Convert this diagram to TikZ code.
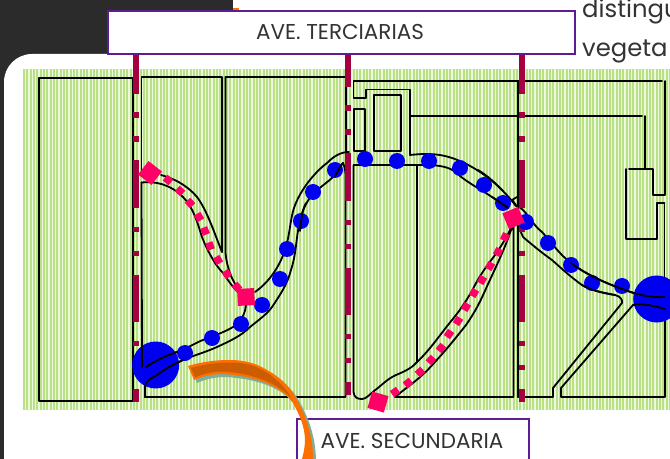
\documentclass[tikz,border=0pt]{standalone}
\usepackage{fontspec}
\setmainfont{Poppins}
\definecolor{slate}{HTML}{2B2B2B}
\definecolor{hatchg}{HTML}{B7E184}
\definecolor{hatchl}{HTML}{EEF8DF}
\definecolor{avenue}{HTML}{A5003F}
\definecolor{pinkm}{HTML}{FF0066}
\definecolor{blueb}{HTML}{0000F0}
\definecolor{boxp}{HTML}{5F1A96}
\definecolor{orangeb}{HTML}{FF6F00}
\definecolor{oranged}{HTML}{CC5C00}
\definecolor{shadowt}{HTML}{7FAE98}
\definecolor{inktext}{HTML}{333333}
\tikzset{
  wall/.style={draw=black,line width=1.8bp,line join=round,line cap=round},
  avenuel/.style={draw=avenue,line width=5.7bp,dash pattern=on 47.5bp off 18.5bp on 5.5bp off 18.5bp on 5.5bp off 18.5bp},
  blob/.style={circle,fill=blueb,inner sep=0pt,minimum size=16bp},
  bigblob/.style={circle,fill=blueb,inner sep=0pt,minimum size=47bp},
  tag/.style={draw=boxp,fill=white,line width=2bp,inner sep=0pt},
  labeltext/.style={text=inktext,font=\fontsize{21.5bp}{23bp}\selectfont,inner sep=0pt},
  pinkdot/.style={fill=pinkm,inner sep=0pt,minimum width=7.5bp,minimum height=7.5bp,rectangle},
  pinkbig/.style={fill=pinkm,inner sep=0pt,minimum size=17bp,rectangle}
}
\begin{document}
\begin{tikzpicture}[x=1bp,y=-1bp]
\useasboundingbox (0,0) rectangle (670,459);
\clip (0,0) rectangle (670,459);
% background
\fill[slate] (0,0) rectangle (670,459);
\fill[white] (233,0) rectangle (670,60);
\fill[orangeb] (233,8) rectangle (239,10);
\fill[white] (4,470) -- (4,82) arc[start angle=180,end angle=90,x radius=28,y radius=-28] -- (680,54) -- (680,470) -- cycle;
% hatch field
\fill[hatchl] (23,69) rectangle (670,410);
\foreach \i in {0,...,194} {
  \fill[hatchg] ({23+3.33*\i},69) rectangle ({25+3.33*\i},410);
}
% walls: left block
\draw[wall] (39,78) -- (133,78) -- (133,401) -- (39,401) -- cycle;
% second block
\draw[wall] (141.5,173) -- (141.5,77) -- (222,77) -- (222,252);
\draw[wall] (141.5,182.5) -- (142,367);
\draw[wall] (141.5,182.5) .. controls (155,181) and (170,184) .. (183,197)
   .. controls (194,208) and (198,225) .. (202,237)
   .. controls (207,250) and (215,265) .. (223,273)
   .. controls (228,280) and (233,288) .. (240,294);
\draw[wall] (161,175) .. controls (172,178) and (186,184) .. (197,197)
   .. controls (207,210) and (215,235) .. (222,252);
\draw[wall] (225.5,77) -- (225.5,253) .. controls (227,268) and (232,282) .. (240,290);
\draw[wall] (225.5,77) -- (346,77) -- (346,152);
% road up the middle
\draw[wall] (255,292) .. controls (268,283) and (279,268) .. (285,250)
   .. controls (290,235) and (290,220) .. (294,208)
   .. controls (300,190) and (315,172) .. (327,163)
   .. controls (333,157) and (340,152) .. (349,152);
\draw[wall] (146,367) .. controls (155,361) and (165,356) .. (177,352)
   .. controls (190,347) and (195,343) .. (203,340)
   .. controls (213,336) and (225,332) .. (233,327)
   .. controls (240,323) and (245,315) .. (246,305);
\draw[wall] (145,397) -- (145,387) .. controls (145,381) and (150,379) .. (157,375)
   .. controls (165,369) and (172,365) .. (183,360)
   .. controls (195,355) and (206,352) .. (217,347)
   .. controls (230,341) and (241,336) .. (250,327)
   .. controls (260,319) and (267,314) .. (272,307)
   .. controls (280,295) and (287,285) .. (291,270)
   .. controls (296,255) and (296,240) .. (299,225)
   .. controls (302,210) and (306,203) .. (312,195)
   .. controls (320,187) and (328,182) .. (333,177)
   .. controls (338,172) and (340,166) .. (343,163);
\draw[wall] (343,163) .. controls (344,165) and (345.5,170) .. (345.5,175) -- (345.5,397) -- (145,397);
% central block
\draw[wall] (353.5,165) -- (353.5,392) .. controls (354,398) and (358,399) .. (362,399)
   .. controls (366,399) and (369,395) .. (374,391)
   .. controls (381,386) and (387,379) .. (396,375)
   .. controls (406,371) and (413,367) .. (417,362)
   -- (417,165) -- cycle;
\draw[wall] (417,362) .. controls (430,350) and (442,332) .. (452,320)
   .. controls (462,308) and (470,295) .. (475,285)
   .. controls (483,270) and (490,262) .. (495,255)
   .. controls (502,245) and (508,235) .. (512,226);
\draw[wall] (395,397) -- (405,389) .. controls (420,378) and (428,370) .. (434,363)
   .. controls (448,348) and (458,335) .. (466,325)
   .. controls (475,312) and (480,302) .. (484,293)
   .. controls (492,275) and (502,255) .. (509,236)
   .. controls (510,232) and (512,228) .. (513.5,225)
   -- (513.5,397) -- cycle;
\draw[wall] (518,397) -- (518,81);
% upper building
\draw[wall] (518,205) -- (518,81) -- (353.5,81) -- (353.5,98) -- (366,98) -- (366,89.5) -- (410,89.5) -- (410,155);
\draw[wall] (518,81) -- (662,81);
\draw[wall] (354,109) rectangle (365,151);
\draw[wall] (374,95) rectangle (401,151);
\draw[wall] (410,116) -- (642,116);
\draw[wall] (645,116) -- (645,169);
\draw[wall] (629,169) -- (653,169) -- (653,195) -- (665,195) -- (665,81);
\draw[wall] (664.5,203) -- (656.7,203) -- (656.7,239) -- (626,239) -- (626,169);
\draw[wall] (664.5,203) -- (664.5,297);
% right-hand road top
\draw[wall] (410,155) .. controls (428,153) and (440,154) .. (452,158)
   .. controls (470,164) and (488,176) .. (502,190)
   .. controls (508,196) and (512,201) .. (516,206);
\draw[wall] (417,165) -- (430,165) .. controls (445,166) and (452,168) .. (460,176)
   .. controls (470,184) and (480,189) .. (492,197)
   .. controls (498,201) and (504,205) .. (508,208);
\draw[wall] (517,197) -- (512,200) -- (516,205);
% right road
\draw[wall] (516,206) .. controls (525,207) and (532,225) .. (542,232)
   .. controls (552,243) and (560,255) .. (570,262)
   .. controls (585,274) and (605,283) .. (625,290)
   .. controls (638,295) and (652,298) .. (664.5,297);
\draw[wall] (518,225) -- (523,237) .. controls (530,243) and (542,253) .. (552,260)
   .. controls (562,269) and (572,278) .. (582,285)
   .. controls (590,290) and (603,293) .. (615,295)
   .. controls (620,296) and (623,300) .. (622,303)
   -- (553,388) -- (553,397) -- (518,397);
\draw[wall] (665,309) -- (665,397) -- (561,397) -- (561,388) -- (633,305)
   .. controls (642,303) and (655,306) .. (665,309);
% purple boxes
\node[tag,minimum width=467bp,minimum height=43bp,anchor=north west] (tercbox) at (107,10) {};
\node[labeltext] (terclabel) at (340,32) {AVE. TERCIARIAS};
\node[tag,minimum width=232bp,minimum height=60bp,anchor=north west] (secbox) at (296,418) {};
\node[labeltext,anchor=center] (seclabel) at (412,441) {AVE. SECUNDARIA};
% swoosh arrow
\begin{scope}[shift={(3,3)}]
\fill[shadowt] (188,366) .. controls (205,361) and (218,360) .. (230,360)
   .. controls (245,360) and (258,364) .. (267,370)
   .. controls (278,376) and (287,384) .. (293,393)
   .. controls (305,412) and (314,435) .. (313,465) -- (300,465)
   .. controls (309,440) and (305,425) .. (293,403)
   .. controls (280,385) and (255,376) .. (223,374)
   .. controls (212,374) and (203,376) .. (194,380) -- cycle;
\end{scope}
\fill[orangeb] (188,366) .. controls (205,361) and (218,360) .. (230,360)
   .. controls (245,360) and (258,364) .. (267,370)
   .. controls (278,376) and (287,384) .. (293,393)
   .. controls (305,412) and (314,435) .. (313,465) -- (300,465)
   .. controls (309,440) and (305,425) .. (293,403)
   .. controls (280,385) and (255,376) .. (223,374)
   .. controls (212,374) and (203,376) .. (194,380) -- cycle;
\fill[oranged] (191,368) .. controls (207,363.5) and (219,362.5) .. (230,362.5)
   .. controls (245,362.5) and (257,366) .. (266,372)
   .. controls (276,378) and (285,387) .. (292,399)
   .. controls (279,384) and (255,373.5) .. (223,371.5)
   .. controls (212,371.5) and (204,373.5) .. (195,377.5) -- cycle;
% avenues
\draw[avenuel,dash phase=8.5bp] (136,55) -- (136,402);
\draw[avenuel,dash phase=15.5bp] (348,55) -- (348,394.5);
\draw[avenuel,dash phase=8.5bp] (522,55) -- (522,402);
% blue stops
\node[bigblob] (hubL) at (155.7,365) {};
\node[bigblob] (hubR) at (656.7,299) {};
\foreach \x/\y in {185/353,212/338,241/324,262/305,280/279,287/249,301/221,313/192,335/170,365/159,397/161,429/161,460/168,484/185,503/203,526/222,548/243,571/265,592/283,622/286} {
  \node[blob] at (\x,\y) {};
}
% road lines that pass over the blue
\draw[wall] (142,300) -- (142,367);
\draw[wall] (146,367) .. controls (155,361) and (165,356) .. (177,352);
\draw[wall] (145,397) -- (145,387) .. controls (145,381) and (150,379) .. (157,375) .. controls (165,369) and (172,365) .. (183,360);
\draw[wall] (625,290) .. controls (638,295) and (652,298) .. (664.5,297);
\draw[wall] (633,305) .. controls (642,303) and (655,306) .. (665,309);
\draw[wall] (300,231) .. controls (301,222) and (302,210) .. (306,203);
\draw[wall] (335,176) .. controls (338,172) and (340,166) .. (343,163);
\draw[wall] (478,170) .. controls (488,176) and (495,183) .. (502,190);
\draw[wall] (492,197) .. controls (498,201) and (504,205) .. (508,208);
\draw[wall] (571,263) .. controls (585,274) and (605,283) .. (625,290);
\draw[wall] (582,285) .. controls (590,290) and (603,293) .. (615,295);
% pink route markers
\foreach \x/\y/\r in {168/180/40,180/191/42,190/203/47,199/217/60,205/231/68,210/246/70,218/260/60,227/274/55,237/287/50,
  395/392/-35,408/383/-38,420/372/-42,431/360/-48,441/348/-52,449/334/-56,458/321/-58,466/307/-60,474/293/-60,482/280/-60,490/266/-60,498/252/-62,505/237/-65} {
  \node[pinkdot,rotate=-\r] at (\x,\y) {};
}
\node[pinkbig,rotate=-38] (squareA) at (150,173) {};
\node[pinkbig,rotate=3] (squareB) at (246,297) {};
\node[pinkbig,rotate=23] (squareC) at (513.5,218) {};
\node[pinkbig,rotate=-16] (squareD) at (378,402) {};
% text at top right
\node[text=inktext,font=\fontsize{24.3bp}{26bp}\selectfont,inner sep=0pt,anchor=base west] (textA) at (582,18) {distingu};
\node[text=inktext,font=\fontsize{24.3bp}{26bp}\selectfont,inner sep=0pt,anchor=base west] (textB) at (582,57) {vegeta};
\end{tikzpicture}
\end{document}
